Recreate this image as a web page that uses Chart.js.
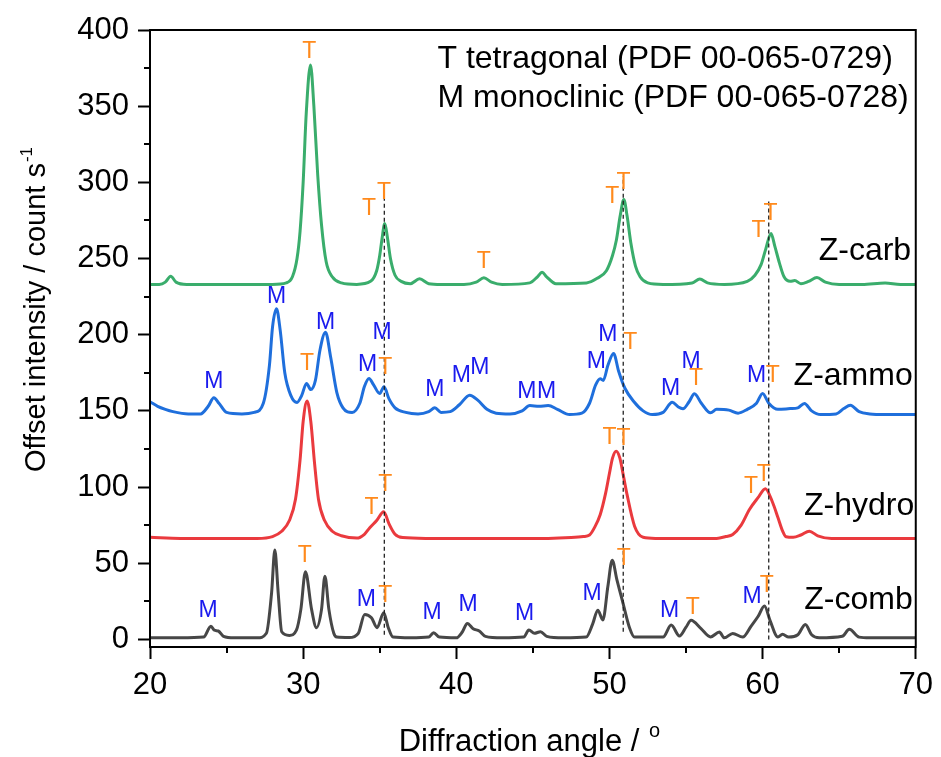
<!DOCTYPE html>
<html>
<head>
<meta charset="utf-8">
<script src="https://cdn.jsdelivr.net/npm/chart.js@4"></script>
<style>
  html, body { margin: 0; padding: 0; background: #fff; }
  #xrd { display: block; }
</style>
</head>
<body>
<canvas id="xrd" width="941" height="757"></canvas>
<script>
// diffraction patterns, intensities already offset per sample
const carbAngle = [20, 20.6, 21.0, 21.35, 21.7, 22.4, 24, 26, 28, 28.9, 29.3, 29.6, 29.8, 30.0, 30.2, 30.48, 30.7, 30.95, 31.2, 31.5, 31.9, 32.5, 33.5, 34.4, 34.8, 35.0, 35.15, 35.33, 35.5, 35.7, 36.0, 36.4, 37.0, 37.6, 38.2, 39, 40.5, 41.3, 41.8, 42.3, 43, 44.8, 45.3, 45.6, 45.9, 46.5, 48.5, 49.2, 49.8, 50.2, 50.45, 50.7, 50.94, 51.15, 51.4, 51.7, 52.0, 52.5, 53.5, 55.4, 55.9, 56.4, 57.5, 59.0, 59.5, 59.9, 60.2, 60.55, 60.8, 61.1, 61.4, 61.8, 62.1, 62.5, 63.0, 63.55, 64.1, 65, 66.5, 68, 69, 70];
const carbCount = [233, 233, 234.5, 238.4, 234.5, 233, 233, 233, 233, 234, 238, 250, 268, 300, 345, 377, 350, 305, 272, 248, 238, 234, 233, 235, 242, 252, 263, 273, 264, 250, 239, 235, 233.5, 236.7, 233.5, 233, 233, 234.5, 237.3, 234.5, 233, 234, 238, 241, 238, 233.5, 234, 237, 242, 252, 262, 278, 288.7, 278, 260, 245, 238, 234, 233, 234, 236.5, 234, 233, 235, 239, 246, 256, 266.4, 258, 247, 238, 235, 235.5, 233.5, 235, 237.5, 234.5, 233, 233, 234, 233, 233];

const ammoAngle = [20, 20.5, 21, 21.5, 22.5, 23.3, 23.8, 24.17, 24.5, 25, 26, 26.8, 27.4, 27.8, 28.0, 28.26, 28.5, 28.8, 29.2, 29.6, 29.9, 30.22, 30.5, 30.8, 31.1, 31.46, 31.8, 32.2, 32.6, 33.2, 33.7, 34.0, 34.3, 34.6, 35.0, 35.28, 35.6, 36.0, 36.7, 37.5, 38.2, 38.6, 39.0, 39.6, 40.2, 40.87, 41.4, 42.0, 42.6, 43.5, 44.3, 44.8, 45.4, 46.0, 46.6, 47.4, 48.2, 48.7, 49.1, 49.4, 49.6, 49.9, 50.27, 50.6, 51.0, 51.6, 52.2, 52.8, 53.5, 54.1, 54.5, 54.8, 55.2, 55.55, 56.0, 56.6, 57.0, 57.8, 58.4, 59.0, 59.6, 60.0, 60.4, 61.0, 61.8, 62.3, 62.73, 63.2, 63.8, 64.8, 65.3, 65.73, 66.3, 67, 68, 69, 70];
const ammoCount = [156, 153, 151, 149.5, 148, 148, 153, 158.6, 155, 149, 148, 149, 155, 180, 205, 217, 203, 175, 160, 155.5, 160, 168, 164, 170, 190, 201.6, 185, 162, 152, 149, 155, 166, 171.3, 167, 161.4, 165.8, 158, 152, 149, 148, 149.5, 152, 149, 149.5, 154, 160.3, 157, 151, 148.5, 148, 150, 153.5, 153, 153.5, 151, 147.6, 148.5, 155, 167, 171, 170, 180, 187.7, 176, 165, 156, 150, 147.6, 149, 155.7, 152.5, 151.4, 156, 161.2, 155, 148.7, 151, 150.5, 148.5, 151, 155, 161.4, 155, 151, 151.5, 152, 154.9, 150, 147.6, 148, 151.5, 153.7, 149.5, 148, 147.6, 147.6, 147.6];

const hydroAngle = [20, 22, 25, 27, 28.0, 28.6, 29.1, 29.5, 29.8, 30.0, 30.26, 30.5, 30.75, 31.0, 31.4, 31.9, 32.5, 33.5, 34.0, 34.35, 34.8, 35.26, 35.6, 36.0, 36.5, 38, 42, 46, 47.5, 48.3, 48.7, 49.03, 49.4, 49.75, 50.0, 50.2, 50.44, 50.68, 50.9, 51.15, 51.64, 52.2, 53, 55, 57, 57.6, 58.05, 58.6, 59.14, 59.7, 60.18, 60.66, 61.0, 61.31, 61.53, 62.0, 62.5, 63.05, 63.6, 64.5, 67, 70];
const hydroCount = [67, 66.3, 66.3, 66.3, 67.5, 71, 78, 92, 118, 143, 156.5, 143, 115, 92, 78, 71, 68, 66.5, 69, 73.3, 78, 83.8, 76, 69, 66.8, 66.3, 66.3, 66.3, 66.8, 67.5, 68.5, 73.5, 82, 96, 109, 119, 123.5, 119, 108, 95, 74.3, 67, 66.3, 66.3, 66.3, 67.5, 68.9, 75, 85.3, 93, 98.9, 89.7, 80, 71, 67.4, 67, 68.5, 71, 68, 66.3, 66.3, 66.3];

const combAngle = [20, 22, 23.5, 23.98, 24.2, 24.46, 24.8, 25.5, 27, 27.6, 27.94, 28.15, 28.37, 28.6, 29.1, 29.56, 29.85, 30.15, 30.55, 30.87, 31.2, 31.42, 31.68, 32.0, 32.2, 33, 33.6, 34.02, 34.46, 34.83, 35.26, 35.55, 35.87, 37, 38.2, 38.52, 38.9, 40, 40.4, 40.72, 41.1, 41.5, 41.9, 43, 44.4, 44.74, 45.1, 45.5, 45.9, 47, 48.48, 48.9, 49.24, 49.57, 49.9, 50.18, 50.48, 50.88, 51.31, 51.64, 52.2, 53.5, 54.03, 54.57, 55.0, 55.33, 55.98, 56.6, 57.18, 57.5, 58.05, 58.7, 59.25, 59.7, 60.12, 60.5, 61.0, 61.3, 61.7, 62.3, 62.79, 63.2, 63.7, 65.2, 65.66, 66.3, 67, 70];
const combCount = [1, 1, 1.5, 8.7, 6, 5.5, 2, 1, 1, 4, 30.6, 58.6, 30.6, 5, 2.6, 6, 19.7, 44.4, 19.7, 7.7, 19.7, 41.5, 19.7, 4, 1.5, 1.2, 4, 16.4, 14.2, 7.7, 17.5, 8, 1.5, 1, 1.5, 4.4, 1.5, 1, 5, 10.5, 7, 5.5, 2, 1, 1.5, 6.1, 4, 5, 2, 1, 1.5, 10, 19.2, 12.7, 35, 52, 39.4, 24, 7.7, 1.5, 1.5, 1.5, 9.4, 2.2, 8, 12.5, 7, 1.6, 4.8, 1, 3.9, 1.5, 8.7, 15, 21.9, 12, 1.5, 3.3, 1.5, 3, 9.8, 3, 1, 2, 6.6, 1.5, 1, 1];

// dashed guides through the shared tetragonal reflections
const guideAngle = [35.3, 50.9, 60.4];
const guideLow = [3, 5, 0];
const guideHigh = [296, 304, 289];

// phase marks above the peaks
const markPhase = ['T', 'T', 'T', 'T', 'T', 'T', 'T', 'T',
  'M', 'M', 'T', 'M', 'M', 'M', 'T', 'M', 'M', 'M', 'M', 'M', 'M', 'M', 'T', 'M', 'M', 'T', 'M', 'T',
  'T', 'T', 'T', 'T', 'T', 'T',
  'M', 'T', 'M', 'T', 'M', 'M', 'M', 'M', 'T', 'M', 'T', 'M', 'T'];
const markAngle = [30.4, 34.3, 35.28, 41.79, 50.18, 50.92, 59.74, 60.51,
  24.17, 28.26, 30.26, 31.46, 34.2, 35.15, 35.37, 38.59, 40.33, 41.53, 44.6, 45.9, 49.14, 49.9, 51.36, 53.99, 55.33, 55.66, 59.61, 60.66,
  34.46, 35.37, 50.0, 50.92, 59.25, 60.07,
  23.8, 30.11, 34.13, 35.37, 38.42, 40.77, 44.46, 48.87, 50.94, 53.92, 55.44, 59.31, 60.27];
const markCount = [386, 282.6, 293.1, 248.2, 290.9, 299.7, 268.6, 279.3,
  169.5, 224.9, 181.1, 208.2, 180.4, 201.2, 178.3, 163.6, 172.8, 178.3, 162.9, 162.9, 182.6, 200.1, 195.1, 164.5, 182.6, 171.1, 172.8, 172.8,
  86.4, 101.7, 132.3, 131.7, 100.2, 108.3,
  18.6, 54.7, 26.2, 28.4, 17.5, 23, 17.1, 30.2, 53.1, 18.6, 20.8, 28, 35];

const sampleNames = ['Z-carb', 'Z-ammo', 'Z-hydro', 'Z-comb'];
const sampleNameAngle = [69.7, 69.8, 69.9, 69.8];
const sampleNameCount = [254.8, 172.8, 87.5, 25.8];
const sampleColors = ['#3aad6c', '#1f6fdc', '#ea3a3e', '#474747'];

const phaseNotes = ['T tetragonal (PDF 00-065-0729)', 'M monoclinic (PDF 00-065-0728)'];
const phaseNoteAngle = 38.77;
const phaseNoteCount = [380.6, 355];

const xTicks = [20, 30, 40, 50, 60, 70];
const yTicks = [0, 50, 100, 150, 200, 250, 300, 350, 400];

const FONT = '"Liberation Sans", Arial, sans-serif';

function pairs(xs, ys) {
  return xs.map((x, i) => ({ x: x, y: ys[i] }));
}

const datasets = [];
guideAngle.forEach((a, i) => {
  datasets.push({
    data: [{ x: a, y: guideLow[i] }, { x: a, y: guideHigh[i] }],
    borderColor: '#222',
    borderWidth: 1.3,
    borderDash: [4, 3],
    pointRadius: 0,
  });
});
[[carbAngle, carbCount], [hydroAngle, hydroCount], [ammoAngle, ammoCount], [combAngle, combCount]].forEach((s, i) => {
  const colorIndex = [0, 2, 1, 3][i];
  datasets.push({
    data: pairs(s[0], s[1]),
    borderColor: sampleColors[colorIndex],
    borderWidth: 3,
    pointRadius: 0,
    cubicInterpolationMode: 'monotone',
  });
});

const xrdDecor = {
  id: 'xrdDecor',
  afterDraw(chart) {
    const ctx = chart.ctx;
    const { left, right, top, bottom } = chart.chartArea;
    const xs = chart.scales.x;
    const ys = chart.scales.y;
    ctx.save();

    // frame
    ctx.strokeStyle = '#000';
    ctx.lineWidth = 2;
    ctx.strokeRect(left, top, right - left, bottom - top);

    // minor ticks
    ctx.beginPath();
    for (let v = 25; v < 400; v += 50) {
      const py = Math.round(ys.getPixelForValue(v));
      ctx.moveTo(left, py);
      ctx.lineTo(left - 6, py);
    }
    for (let v = 25; v < 70; v += 10) {
      const px = Math.round(xs.getPixelForValue(v));
      ctx.moveTo(px, bottom);
      ctx.lineTo(px, bottom + 6);
    }
    ctx.stroke();

    // phase marks
    ctx.font = '23px ' + FONT;
    ctx.textAlign = 'center';
    ctx.textBaseline = 'middle';
    markPhase.forEach((p, i) => {
      ctx.fillStyle = p === 'T' ? '#ff8a1c' : '#1a1aee';
      ctx.fillText(p, xs.getPixelForValue(markAngle[i]), ys.getPixelForValue(markCount[i]));
    });

    // sample names
    ctx.font = '32px ' + FONT;
    ctx.fillStyle = '#000';
    ctx.textAlign = 'right';
    sampleNames.forEach((n, i) => {
      ctx.fillText(n, xs.getPixelForValue(sampleNameAngle[i]), ys.getPixelForValue(sampleNameCount[i]));
    });

    // phase reference notes
    ctx.textAlign = 'left';
    phaseNotes.forEach((n, i) => {
      ctx.fillText(n, xs.getPixelForValue(phaseNoteAngle), ys.getPixelForValue(phaseNoteCount[i]));
    });

    // x axis title with raised degree sign
    const xMain = 'Diffraction angle / ';
    ctx.font = '31px ' + FONT;
    const wMain = ctx.measureText(xMain).width;
    ctx.font = '20px ' + FONT;
    const wSup = ctx.measureText('o').width;
    const x0 = (left + right) / 2 - (wMain + wSup) / 2 - 4;
    ctx.textBaseline = 'alphabetic';
    ctx.font = '31px ' + FONT;
    ctx.fillText(xMain, x0, 751);
    ctx.font = '20px ' + FONT;
    ctx.fillText('o', x0 + wMain + 1, 737);

    // y axis title with superscript
    const yMain = 'Offset intensity / count s';
    ctx.translate(45, 310);
    ctx.rotate(-Math.PI / 2);
    ctx.font = '29px ' + FONT;
    const wy = ctx.measureText(yMain).width;
    ctx.font = '17px ' + FONT;
    const wy2 = ctx.measureText('-1').width;
    const y0 = -(wy + wy2) / 2;
    ctx.font = '29px ' + FONT;
    ctx.fillText(yMain, y0, 0);
    ctx.font = '17px ' + FONT;
    ctx.fillText('-1', y0 + wy + 1, -13);

    ctx.restore();
  }
};

new Chart(document.getElementById('xrd'), {
  type: 'line',
  data: { datasets: datasets },
  options: {
    responsive: false,
    devicePixelRatio: 1,
    animation: false,
    layout: { padding: { top: 30, right: 24, left: 0, bottom: 0 } },
    plugins: { legend: { display: false }, tooltip: { enabled: false } },
    scales: {
      x: {
        type: 'linear',
        min: 20,
        max: 70,
        afterFit: (scale) => { scale.height = 110; },
        afterBuildTicks: (scale) => { scale.ticks = xTicks.map((v) => ({ value: v })); },
        grid: { drawOnChartArea: false, tickLength: 12, tickWidth: 2, tickColor: '#000' },
        border: { color: '#000', width: 2 },
        ticks: { color: '#000', padding: 8, maxRotation: 0, font: { size: 31, family: FONT } },
      },
      y: {
        type: 'linear',
        min: -5,
        max: 400,
        afterFit: (scale) => { scale.width = 150; },
        afterBuildTicks: (scale) => { scale.ticks = yTicks.map((v) => ({ value: v })); },
        grid: { drawOnChartArea: false, tickLength: 12, tickWidth: 2, tickColor: '#000' },
        border: { color: '#000', width: 2 },
        ticks: { color: '#000', padding: 9, font: { size: 31, family: FONT } },
      },
    },
  },
  plugins: [xrdDecor],
});
</script>
</body>
</html>
